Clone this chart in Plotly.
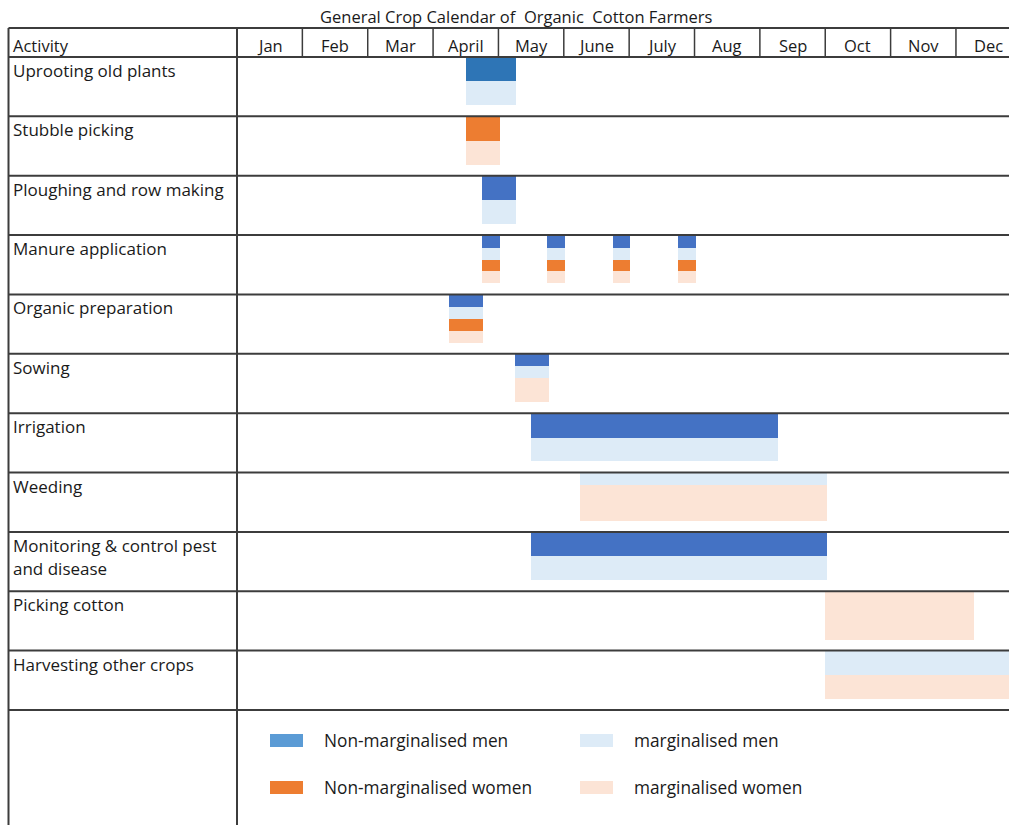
import plotly.graph_objects as go

# ---------------- data ----------------
title_text = "General Crop Calendar of  Organic  Cotton Farmers"
months = ["Jan", "Feb", "Mar", "April", "May", "June", "July", "Aug", "Sep", "Oct", "Nov", "Dec"]
activities = [
    "Uprooting old plants",
    "Stubble picking",
    "Ploughing and row making",
    "Manure application",
    "Organic preparation",
    "Sowing",
    "Irrigation",
    "Weeding",
    "Monitoring & control pest<br>and disease",
    "Picking cotton",
    "Harvesting other crops",
]
series_names = ["Non-marginalised men", "marginalised men",
                "Non-marginalised women", "marginalised women"]

# bars: (activity index, series, start month, end month, slot start, slots)
bar_activity = [0, 0, 1, 1, 2, 2,
                3, 3, 3, 3, 3, 3, 3, 3, 3, 3, 3, 3, 3, 3, 3, 3,
                4, 4, 4, 4, 5, 5, 5, 6, 6, 7, 7, 8, 8, 9, 10, 10]
bar_series = [0, 1, 2, 3, 0, 1,
              0, 1, 2, 3, 0, 1, 2, 3, 0, 1, 2, 3, 0, 1, 2, 3,
              0, 1, 2, 3, 0, 1, 3, 0, 1, 1, 3, 0, 1, 3, 1, 3]
bar_start = [3.50, 3.50, 3.50, 3.50, 3.75, 3.75,
             3.75, 3.75, 3.75, 3.75, 4.75, 4.75, 4.75, 4.75,
             5.75, 5.75, 5.75, 5.75, 6.75, 6.75, 6.75, 6.75,
             3.25, 3.25, 3.25, 3.25, 4.25, 4.25, 4.25,
             4.50, 4.50, 5.25, 5.25, 4.50, 4.50, 9.00, 9.00, 9.00]
bar_end = [4.27, 4.27, 4.02, 4.02, 4.27, 4.27,
           4.02, 4.02, 4.02, 4.02, 5.02, 5.02, 5.02, 5.02,
           6.02, 6.02, 6.02, 6.02, 7.02, 7.02, 7.02, 7.02,
           3.77, 3.77, 3.77, 3.77, 4.77, 4.77, 4.77,
           8.27, 8.27, 9.03, 9.03, 9.03, 9.03, 11.28, 12.0, 12.0]
bar_slot0 = [0, 2, 0, 2, 0, 2,
             0, 1, 2, 3, 0, 1, 2, 3, 0, 1, 2, 3, 0, 1, 2, 3,
             0, 1, 2, 3, 0, 1, 2, 0, 2, 0, 1, 0, 2, 0, 0, 2]
bar_slots = [2, 2, 2, 2, 2, 2,
             1, 1, 1, 1, 1, 1, 1, 1, 1, 1, 1, 1, 1, 1, 1, 1,
             1, 1, 1, 1, 1, 1, 2, 2, 2, 1, 3, 2, 2, 4, 2, 2]

# ---------------- style ----------------
series_colors = ["#4472C4", "#DDEBF7", "#ED7D31", "#FCE4D6"]
first_bar_color = "#2E75B6"
legend_colors = ["#5B9BD5", "#DDEBF7", "#ED7D31", "#FCE4D6"]
line_color = "#3C3C3C"
text_color = "#1A1A1A"
FONT = "Open Sans"

W, H = 1009, 825
MONTH_PX = 65.36
X0_PX = 237.0
ROW_PX = 59.36
Y0_PX = 57.0

x_range = [-X0_PX / MONTH_PX, (W - X0_PX) / MONTH_PX]
y_range = [(H - Y0_PX) / ROW_PX, -Y0_PX / ROW_PX]


def px_x(px):
    return (px - X0_PX) / MONTH_PX


def px_y(py):
    return (py - Y0_PX) / ROW_PX


SLOT = 0.201
SLOT_OFF = 0.01
header_top = px_y(28)
left_edge = px_x(8.5)
n_rows = len(activities)

fig = go.Figure()

for s in range(4):
    idx = [i for i in range(len(bar_series)) if bar_series[i] == s]
    ys = [bar_activity[i] + SLOT_OFF + (bar_slot0[i] + bar_slots[i] / 2) * SLOT for i in idx]
    ws = [bar_slots[i] * SLOT for i in idx]
    bases = [bar_start[i] for i in idx]
    lens = [bar_end[i] - bar_start[i] for i in idx]
    cols = [first_bar_color if (s == 0 and bar_activity[i] == 0) else series_colors[s] for i in idx]
    fig.add_trace(go.Bar(
        orientation="h", y=ys, x=lens, base=bases, width=ws,
        marker=dict(color=cols, line=dict(width=0)),
        name=series_names[s], showlegend=False, hoverinfo="skip",
    ))

shapes = []
# horizontal lines
shapes.append(dict(type="line", x0=left_edge, x1=x_range[1], y0=header_top, y1=header_top,
                   line=dict(color=line_color, width=2), layer="above"))
for r in range(n_rows + 1):
    shapes.append(dict(type="line", x0=left_edge, x1=x_range[1], y0=r, y1=r,
                       line=dict(color=line_color, width=2), layer="above"))
# vertical lines
shapes.append(dict(type="line", x0=left_edge, x1=left_edge, y0=header_top, y1=y_range[0],
                   line=dict(color=line_color, width=2), layer="above"))
shapes.append(dict(type="line", x0=0, x1=0, y0=header_top, y1=y_range[0],
                   line=dict(color=line_color, width=2), layer="above"))
for m in range(1, 12):
    shapes.append(dict(type="line", x0=m, x1=m, y0=header_top, y1=0,
                       line=dict(color=line_color, width=1.5), layer="above"))

annotations = []
annotations.append(dict(x=px_x(516), y=px_y(16.5), text=title_text,
                        showarrow=False, xanchor="center", yanchor="middle",
                        font=dict(family=FONT, size=16.5, color=text_color)))
annotations.append(dict(x=px_x(11), y=px_y(45), text="Activity",
                        showarrow=False, xanchor="left", yanchor="middle",
                        font=dict(family=FONT, size=16.5, color=text_color)))
for m, name in enumerate(months):
    annotations.append(dict(x=m + 0.5, y=px_y(45), text=name,
                            showarrow=False, xanchor="center", yanchor="middle",
                            font=dict(family=FONT, size=16.5, color=text_color)))
for r, name in enumerate(activities):
    for li, line in enumerate(name.split("<br>")):
        annotations.append(dict(x=px_x(11), y=r + px_y(Y0_PX + 13.5 + 23.5 * li), text=line,
                                showarrow=False, xanchor="left", yanchor="middle", align="left",
                                font=dict(family=FONT, size=17, color=text_color)))

# legend drawn inside the bottom table cell
leg_x_px = [270, 580, 270, 580]
leg_y_px = [740.5, 740.5, 787.5, 787.5]
for k in range(4):
    yc = px_y(leg_y_px[k])
    hh = 6.5 / ROW_PX
    shapes.append(dict(type="rect", x0=px_x(leg_x_px[k]), x1=px_x(leg_x_px[k] + 33),
                       y0=yc - hh, y1=yc + hh,
                       fillcolor=legend_colors[k], line=dict(width=0)))
    annotations.append(dict(x=px_x(leg_x_px[k] + 52), y=yc, text=series_names[k],
                            showarrow=False, xanchor="left", yanchor="middle",
                            font=dict(family=FONT, size=17.3, color=text_color)))

fig.update_layout(
    width=W, height=H, autosize=False,
    margin=dict(l=0, r=0, t=0, b=0, pad=0),
    paper_bgcolor="white", plot_bgcolor="white",
    barmode="overlay", bargap=0,
    xaxis=dict(range=x_range, visible=False, fixedrange=True),
    yaxis=dict(range=y_range, visible=False, fixedrange=True),
    shapes=shapes, annotations=annotations,
)

fig.write_html("out.html")
